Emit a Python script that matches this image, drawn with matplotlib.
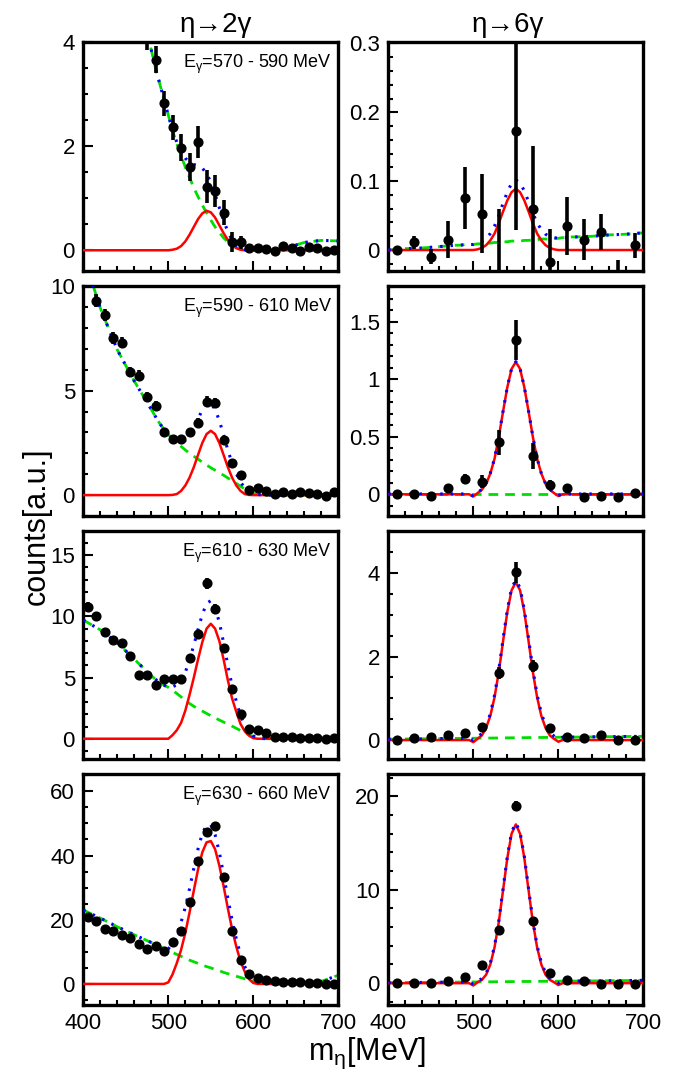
import numpy as np
import matplotlib
matplotlib.use('Agg')
import matplotlib.pyplot as plt
from matplotlib.ticker import MultipleLocator, FuncFormatter

plt.rcParams['font.family'] = ['Liberation Sans', 'DejaVu Sans']
plt.rcParams['mathtext.fontset'] = 'custom'
plt.rcParams['mathtext.rm'] = 'Liberation Sans'
plt.rcParams['mathtext.it'] = 'Liberation Sans:italic'

# ---------------- data points ----------------
L1_X = [475, 485, 495, 505, 515, 525, 535, 545, 555, 565, 575, 585, 595, 605, 615, 625, 635, 645, 655, 665, 675, 685, 695]
L1_Y = [4.15, 3.67, 2.83, 2.37, 1.97, 1.60, 2.08, 1.22, 1.14, 0.72, 0.16, 0.15, 0.05, 0.04, 0.03, -0.01, 0.09, 0.05, -0.01, 0.06, 0.04, -0.01, 0.00]
L1_E = [0.30, 0.26, 0.24, 0.24, 0.26, 0.27, 0.31, 0.32, 0.30, 0.24, 0.19, 0.13, 0.07, 0.05, 0.05, 0.05, 0.06, 0.05, 0.05, 0.05, 0.05, 0.05, 0.05]

L2_X = [415, 425, 435, 445, 455, 465, 475, 485, 495, 505, 515, 525, 535, 545, 555, 565, 575, 585, 595, 605, 615, 625, 635, 645, 655, 665, 675, 685, 695]
L2_Y = [9.30, 8.62, 7.51, 7.30, 5.88, 5.72, 4.71, 4.28, 3.03, 2.67, 2.67, 3.03, 3.47, 4.47, 4.42, 2.64, 1.55, 0.94, 0.24, 0.32, 0.19, 0.03, 0.13, 0.03, 0.13, 0.08, 0.03, -0.02, 0.16]
L2_E = [0.32, 0.30, 0.28, 0.28, 0.25, 0.25, 0.22, 0.22, 0.20, 0.18, 0.18, 0.20, 0.22, 0.25, 0.25, 0.20, 0.15, 0.12, 0.08, 0.08, 0.07, 0.05, 0.05, 0.05, 0.05, 0.05, 0.05, 0.05, 0.05]

L34_X = [405, 415, 425, 435, 445, 455, 465, 475, 485, 495, 505, 515, 525, 535, 545, 555, 565, 575, 585, 595, 605, 615, 625, 635, 645, 655, 665, 675, 685, 695]
L3_Y = [10.79, 10.06, 8.70, 8.07, 7.80, 6.79, 5.21, 5.21, 4.39, 4.88, 4.88, 4.88, 6.62, 8.53, 12.70, 10.60, 7.39, 4.06, 1.99, 0.77, 0.74, 0.44, 0.11, 0.14, 0.16, 0.05, 0.03, 0.08, 0.00, 0.03]
L3_E = [0.35, 0.33, 0.32, 0.30, 0.30, 0.28, 0.26, 0.26, 0.25, 0.25, 0.25, 0.25, 0.30, 0.35, 0.45, 0.40, 0.33, 0.26, 0.18, 0.12, 0.12, 0.10, 0.06, 0.06, 0.06, 0.05, 0.05, 0.05, 0.05, 0.05]
L4_Y = [20.8, 19.5, 17.2, 16.6, 15.1, 14.3, 12.5, 11.0, 11.7, 10.2, 13.0, 16.6, 25.5, 38.2, 47.3, 49.3, 33.4, 16.4, 7.6, 3.1, 1.9, 1.1, 0.8, 0.6, 0.6, 0.6, 0.4, 0.4, 0.1, 0.1]
L4_E = [0.8, 0.8, 0.7, 0.7, 0.7, 0.7, 0.6, 0.6, 0.6, 0.6, 0.7, 0.7, 0.9, 1.1, 1.2, 1.2, 1.0, 0.7, 0.5, 0.3, 0.3, 0.2, 0.2, 0.2, 0.2, 0.2, 0.2, 0.2, 0.2, 0.2]

R_X = [410, 430, 450, 470, 490, 510, 530, 550, 570, 590, 610, 630, 650, 670, 690]
R1_Y = [0.000, 0.011, -0.010, 0.015, 0.076, 0.053, -0.040, 0.173, 0.060, -0.018, 0.035, 0.015, 0.026, -0.050, 0.007]
R1_E = [0.004, 0.009, 0.011, 0.027, 0.045, 0.057, 0.100, 0.144, 0.091, 0.048, 0.042, 0.030, 0.026, 0.035, 0.018]
R2_Y = [0.0, 0.0, -0.012, 0.057, 0.133, 0.110, 0.452, 1.342, 0.333, 0.081, 0.058, -0.020, -0.015, -0.020, 0.009]
R2_E = [0.01, 0.01, 0.01, 0.02, 0.046, 0.058, 0.109, 0.177, 0.109, 0.040, 0.035, 0.01, 0.01, 0.01, 0.01]
R3_Y = [0.01, 0.04, 0.08, 0.13, 0.17, 0.31, 1.60, 4.02, 1.77, 0.28, 0.07, 0.04, 0.12, -0.01, -0.01]
R3_E = [0.02, 0.02, 0.03, 0.04, 0.04, 0.06, 0.14, 0.25, 0.14, 0.06, 0.03, 0.03, 0.04, 0.02, 0.02]
R4_Y = [0.0, 0.0, 0.07, 0.28, 0.71, 1.95, 5.73, 19.0, 6.69, 1.14, 0.32, 0.21, -0.04, -0.04, -0.10]
R4_E = [0.1, 0.1, 0.1, 0.15, 0.2, 0.3, 0.4, 0.5, 0.4, 0.2, 0.1, 0.1, 0.1, 0.1, 0.1]

# ---------------- fit curves (read on a common grid) ----------------
CX = [400, 420, 440, 460, 480, 485, 490, 495, 500, 505, 510, 515, 520, 525, 530, 535, 540, 545, 550, 555,
      560, 565, 570, 575, 580, 585, 590, 595, 600, 605, 610, 615, 620, 640, 660, 680, 700]

L1_SIG = [0, 0, 0, 0, 0, 0, 0, 0, 0, 0.01, 0.03, 0.08, 0.17, 0.30, 0.45, 0.60, 0.71, 0.76, 0.73, 0.63,
          0.48, 0.33, 0.20, 0.10, 0.04, 0.01, 0, 0, 0, 0, 0, 0, 0, 0, 0, 0, 0]
L1_BG = [12.0, 9.3, 7.0, 5.2, 3.85, 3.5, 3.2, 2.9, 2.6, 2.3, 2.05, 1.82, 1.6, 1.4, 1.2, 1.03, 0.87, 0.72, 0.58, 0.45,
         0.34, 0.24, 0.16, 0.10, 0.05, 0.02, 0.01, 0.0, 0.0, 0.0, 0.0, 0.0, 0.0, 0.05, 0.15, 0.19, 0.18]

L2_SIG = [0, 0, 0, 0, 0, 0, 0, 0, 0, 0.01, 0.05, 0.20, 0.46, 0.84, 1.34, 1.93, 2.50, 2.92, 3.08, 2.92,
          2.50, 1.93, 1.34, 0.84, 0.46, 0.20, 0.05, 0.01, 0, 0, 0, 0, 0, 0, 0, 0, 0]
L2_BG = [11.5, 8.95, 6.95, 5.45, 4.1, 3.75, 3.42, 3.15, 2.9, 2.68, 2.5, 2.33, 2.16, 2.0, 1.86, 1.72, 1.58, 1.44, 1.31, 1.19,
         1.07, 0.95, 0.82, 0.69, 0.56, 0.42, 0.29, 0.17, 0.08, 0.03, 0.01, 0, 0, 0, 0, 0, 0]

L3_SIG = [0, 0, 0, 0, 0, 0, 0, 0, 0, 0.3, 0.7, 1.3, 2.3, 3.6, 5.0, 6.5, 7.9, 9.0, 9.4, 9.0,
          8.0, 6.5, 4.8, 3.3, 2.2, 1.2, 0.6, 0.25, 0.05, 0, 0, 0, 0, 0, 0, 0, 0]
L3_BG = [9.7, 8.9, 7.85, 6.5, 5.15, 4.85, 4.6, 4.38, 4.2, 3.95, 3.7, 3.42, 3.13, 2.88, 2.65, 2.45, 2.26, 2.07, 1.88, 1.7,
         1.53, 1.36, 1.2, 1.03, 0.85, 0.67, 0.5, 0.33, 0.18, 0.07, 0.02, 0, 0, 0, 0, 0, 0.05]

L4_SIG = [0, 0, 0, 0, 0, 0, 0, 0, 0.5, 3.0, 6.5, 10.6, 15.9, 22.3, 29.1, 35.7, 41.0, 44.1, 44.5, 42.0,
          36.9, 30.5, 23.6, 17.1, 11.6, 7.0, 3.8, 1.5, 0.3, 0, 0, 0, 0, 0, 0, 0, 0]
L4_BG = [23.0, 20.5, 17.8, 15.3, 12.9, 12.3, 11.6, 11.0, 10.4, 9.8, 9.2, 8.6, 8.0, 7.4, 6.9, 6.4, 5.9, 5.4, 5.0, 4.5,
         4.1, 3.6, 3.2, 2.8, 2.4, 2.0, 1.6, 1.3, 1.0, 0.8, 0.6, 0.5, 0.4, 0.3, 0.3, 0.8, 2.7]

R1_SIG = [0, 0, 0, 0, 0, 0, 0, 0, 0, 0.001, 0.003, 0.007, 0.014, 0.024, 0.039, 0.056, 0.072, 0.084, 0.089, 0.084,
          0.072, 0.056, 0.039, 0.024, 0.014, 0.007, 0.003, 0.001, 0, 0, 0, 0, 0, 0, 0, 0, 0]
R1_BG = [0.0, 0.002, 0.003, 0.005, 0.007, 0.007, 0.008, 0.008, 0.008, 0.009, 0.009, 0.010, 0.010, 0.011, 0.011, 0.012, 0.012, 0.013, 0.013, 0.013,
         0.014, 0.014, 0.015, 0.015, 0.016, 0.016, 0.016, 0.017, 0.017, 0.018, 0.018, 0.019, 0.019, 0.020, 0.022, 0.023, 0.025]

R2_SIG = [0, 0, 0, 0, 0, 0, 0, 0, -0.02, 0.01, 0.04, 0.09, 0.18, 0.31, 0.50, 0.72, 0.93, 1.09, 1.15, 1.09,
          0.93, 0.72, 0.50, 0.31, 0.18, 0.09, 0.04, 0.01, -0.015, 0, 0, 0, 0, 0, 0, 0, 0]
R2_BG = [0.003, 0.003, 0.003, 0.003, 0.003, 0.003, 0.003, 0.003, 0.003, 0.003, 0.003, 0.003, 0.003, 0.003, 0.003, 0.003, 0.003, 0.003, 0.003, 0.003,
         0.003, 0.003, 0.003, 0.003, 0.003, 0.003, 0.003, 0.003, 0.003, 0.003, 0.003, 0.003, 0.003, 0.003, 0.003, 0.003, 0.003]

R3_SIG = [0, 0, 0, 0, 0, 0, 0, 0, -0.05, 0.03, 0.11, 0.29, 0.58, 1.03, 1.64, 2.37, 3.07, 3.59, 3.78, 3.59,
          3.07, 2.37, 1.64, 1.03, 0.58, 0.29, 0.11, 0.03, -0.04, 0, 0, 0, 0, 0, 0, 0, 0]
R3_BG = [0.020, 0.025, 0.029, 0.034, 0.039, 0.040, 0.041, 0.042, 0.043, 0.045, 0.046, 0.047, 0.048, 0.049, 0.050, 0.052, 0.053, 0.054, 0.055, 0.056,
         0.057, 0.059, 0.060, 0.061, 0.062, 0.063, 0.064, 0.066, 0.067, 0.068, 0.069, 0.070, 0.071, 0.076, 0.081, 0.085, 0.090]

R4_SIG = [0, 0, 0, 0, 0, 0, 0, 0, -0.25, 0.1, 0.35, 0.9, 2.0, 3.85, 6.55, 9.95, 13.4, 16.0, 17.0, 16.0,
          13.4, 9.95, 6.55, 3.85, 2.0, 0.9, 0.35, 0.1, -0.2, 0, 0, 0, 0, 0, 0, 0, 0]
R4_BG = [0.05, 0.07, 0.08, 0.10, 0.11, 0.12, 0.12, 0.13, 0.13, 0.13, 0.14, 0.14, 0.15, 0.15, 0.15, 0.16, 0.16, 0.17, 0.17, 0.18,
         0.18, 0.18, 0.19, 0.19, 0.20, 0.20, 0.20, 0.21, 0.21, 0.22, 0.22, 0.22, 0.23, 0.24, 0.26, 0.28, 0.30]

ENERGY_LABELS = ['570 - 590', '590 - 610', '610 - 630', '630 - 660']
X_TICKS = [400, 500, 600, 700]

# ---------------- layout ----------------
fig = plt.figure(figsize=(6.73, 10.73), dpi=100)
col_x = [0.1238, 0.577]
col_w = 0.3789
rows = [(0.7474, 0.2131), (0.5191, 0.2144), (0.2926, 0.2125), (0.0637, 0.2150)]

panels = [
    # row, col, X, Y, E, SIG, BG, ylim, major, minor
    (0, 0, L1_X, L1_Y, L1_E, L1_SIG, L1_BG, (-0.40, 4.0), 2, 0.5),
    (0, 1, R_X, R1_Y, R1_E, R1_SIG, R1_BG, (-0.0305, 0.3015), 0.1, 0.02),
    (1, 0, L2_X, L2_Y, L2_E, L2_SIG, L2_BG, (-1.0, 10.01), 5, 1),
    (1, 1, R_X, R2_Y, R2_E, R2_SIG, R2_BG, (-0.189, 1.811), 0.5, 0.1),
    (2, 0, L34_X, L3_Y, L3_E, L3_SIG, L3_BG, (-1.66, 16.98), 5, 1),
    (2, 1, R_X, R3_Y, R3_E, R3_SIG, R3_BG, (-0.455, 5.01), 2, 0.5),
    (3, 0, L34_X, L4_Y, L4_E, L4_SIG, L4_BG, (-6.45, 65.4), 20, 5),
    (3, 1, R_X, R4_Y, R4_E, R4_SIG, R4_BG, (-2.3, 22.4), 10, 2),
]

fmt = FuncFormatter(lambda v, p: '%g' % round(v, 6))

for (r, c, X, Y, E, SIG, BG, ylim, major, minor) in panels:
    b, h = rows[r]
    ax = fig.add_axes([col_x[c], b, col_w, h])
    cx = np.array(CX, dtype=float)
    sig = np.array(SIG, dtype=float)
    bg = np.array(BG, dtype=float)
    ax.plot(cx, bg, color='#00dd00', lw=2.0, ls=(0, (3.5, 2.5)), zorder=2)
    ax.plot(cx, sig, color='#ff0000', lw=1.8, zorder=3)
    ax.plot(cx, sig + bg, color='#0000ff', lw=2.2, ls=(0, (0.8, 2.6)), zorder=4)
    ax.errorbar(X, Y, yerr=E, fmt='o', color='black', ms=6.3, elinewidth=2.6,
                capsize=0, zorder=5)
    ax.set_xlim(400, 700)
    ax.set_ylim(*ylim)
    ax.xaxis.set_major_locator(MultipleLocator(100))
    ax.xaxis.set_minor_locator(MultipleLocator(20))
    ax.yaxis.set_major_locator(MultipleLocator(major))
    ax.yaxis.set_minor_locator(MultipleLocator(minor))
    ax.yaxis.set_major_formatter(fmt)
    ax.tick_params(which='both', direction='in', top=False, right=False,
                   width=1.5, labelsize=16, pad=6)
    ax.tick_params(which='major', length=7)
    ax.tick_params(which='minor', length=3.5)
    if r == 3:
        ax.set_xticks(X_TICKS)
        ax.set_xticklabels([str(t) for t in X_TICKS])
    else:
        ax.tick_params(axis='x', labelbottom=False)
    for s in ax.spines.values():
        s.set_linewidth(2.4)
    if c == 0:
        ax.text(0.975, 0.888, r'E$_{\mathrm{\gamma}}$=' + ENERGY_LABELS[r] + ' MeV',
                transform=ax.transAxes, ha='right', va='baseline', fontsize=13)

fig.text(0.321, 0.9705, 'η→2γ', ha='center', va='baseline', fontsize=20)
fig.text(0.755, 0.9705, 'η→6γ', ha='center', va='baseline', fontsize=20)
fig.text(0.055, 0.51, 'counts[a.u.]', rotation=90, ha='center', va='center', fontsize=22)
fig.text(0.545, 0.012, r'm$_{\mathrm{\eta}}$[MeV]', ha='center', va='baseline', fontsize=22)

fig.savefig('out.png', dpi=100)
